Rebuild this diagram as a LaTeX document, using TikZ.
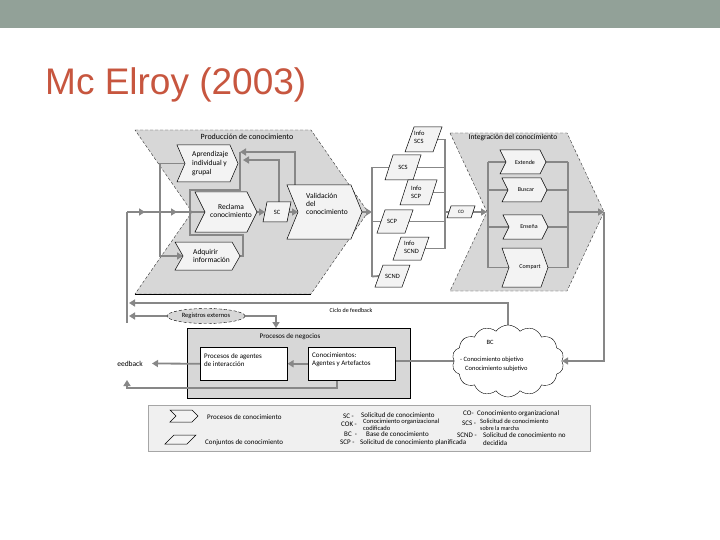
\documentclass[tikz,border=0pt]{standalone}
\usepackage{fontspec}
\setmainfont{Carlito}
\newfontfamily\titlefont{Liberation Sans}
\usetikzlibrary{arrows.meta,shapes.symbols,shapes.geometric,decorations.markings}
\definecolor{barcol}{RGB}{146,161,152}
\definecolor{titlecol}{RGB}{199,86,63}
\definecolor{chevfill}{RGB}{215,215,215}
\definecolor{boxfill}{RGB}{243,243,243}
\definecolor{linecol}{RGB}{135,135,135}
\definecolor{legfill}{RGB}{240,240,240}
\pgfdeclarelayer{back}
\pgfdeclarelayer{mid}
\pgfsetlayers{back,mid,main}
\newcommand\myfs[2]{\fontsize{#1}{#2}\selectfont}
% chevron: name, x left, y top, x body right, y bottom, depth, style
\newcommand\chevshape[7]{%
  \path[#7] (#2,#3) -- (#4,#3) -- ({#4+#6},{(#3+#5)/2}) -- (#4,#5) -- (#2,#5) -- ({#2+#6},{(#3+#5)/2}) -- cycle;
  \coordinate (#1-tip) at ({#4+#6},{(#3+#5)/2});
  \coordinate (#1-notch) at ({#2+#6},{(#3+#5)/2});
}
% parallelogram: name, x bottom-left, y top, width, height, slant, style
\newcommand\parashape[7]{%
  \path[#7] (#2,{#3+#5}) -- ({#2+#4},{#3+#5}) -- ({#2+#4+#6},#3) -- ({#2+#6},#3) -- cycle;
  \coordinate (#1-l) at ({#2+#6/2},{#3+#5/2});
  \coordinate (#1-r) at ({#2+#4+#6/2},{#3+#5/2});
  \coordinate (#1-c) at ({#2+#4/2+#6/2},{#3+#5/2});
  \coordinate (#1-t) at ({#2+#4/2+#6},#3);
}
\begin{document}
\begin{tikzpicture}[x=1pt,y=-1pt,
  flow/.style={draw=linecol, line width=1.8pt},
  flowarr/.style={flow, -{Triangle[length=6pt,width=7pt]}},
  midarrows/.style={postaction={decorate, decoration={markings,
     mark=at position 18pt with {\arrow[linecol]{Triangle[length=6pt,width=7pt]}},
     mark=at position 50pt with {\arrow[linecol]{Triangle[length=6pt,width=7pt]}}}}},
  bigchev/.style={fill=chevfill, draw=black!80, densely dashed, line width=0.4pt},
  smallchev/.style={fill=boxfill, draw=black, line width=0.5pt},
  parast/.style={fill=boxfill, draw=black, line width=0.5pt},
  txt/.style={inner sep=0pt, font=\myfs{7.5}{9}},
  stxt/.style={inner sep=0pt, font=\myfs{6.5}{8}},
  ltxt/.style={inner sep=0pt, font=\myfs{7}{8}, anchor=west},
  wbox/.style={draw=black, line width=0.5pt, fill=white, inner sep=0pt, anchor=north west}
]
\useasboundingbox (0,0) rectangle (720,540);

% ---------- background containers
\begin{pgfonlayer}{back}
\fill[white] (0,0) rectangle (720,540);
\fill[barcol] (0,0) rectangle (720,28);
\chevshape{prod}{135}{130}{311}{294}{57}{bigchev}
\draw[black, line width=0.6pt] (135,294) -- (311,294);
\chevshape{integ}{450}{133}{567}{291}{37}{bigchev}
\node[wbox, fill=chevfill, minimum width=223pt, minimum height=70pt] (bp) at (187,328) {};
\node[wbox, fill=legfill, draw=gray!70, line width=0.9pt, minimum width=442pt, minimum height=46pt] (legend) at (148,405) {};
\end{pgfonlayer}

\node[anchor=base west, inner sep=0pt, text=titlecol, font=\titlefont\myfs{37}{44}] (title) at (45,95) {Mc Elroy (2003)};

% ---------- knowledge production
\chevshape{aprend}{177}{145}{230}{182}{8}{smallchev}
\chevshape{reclama}{195}{192}{247}{232}{10}{smallchev}
\chevshape{valid}{287}{185}{351}{239}{11}{smallchev}
\chevshape{adq}{175}{242}{232}{270}{8}{smallchev}
\parashape{sc}{263}{202}{24}{20}{4}{parast}

% ---------- knowledge sets
\parashape{infoscs}{405}{127}{28}{25}{9}{parast}
\parashape{scs}{385}{155}{28}{25}{8}{parast}
\parashape{infoscp}{400}{180}{29}{25}{8}{parast}
\parashape{scp}{377}{210}{28}{23}{8}{parast}
\parashape{infoscnd}{393}{237}{28}{23}{8}{parast}
\parashape{scnd}{375}{265}{27}{22}{8}{parast}
\parashape{co}{447}{206}{24}{12}{4}{parast}

% ---------- knowledge integration
\chevshape{ext}{500}{150}{540}{174}{6}{smallchev}
\chevshape{busc}{502}{178}{541}{202}{6}{smallchev}
\chevshape{ens}{503}{215}{542}{239}{6}{smallchev}
\chevshape{comp}{502}{248}{541}{287}{7}{smallchev}

% ---------- business processes, cloud, records
\node[wbox, minimum width=87pt, minimum height=33pt] (pa) at (200,347) {};
\node[wbox, minimum width=87pt, minimum height=33pt] (conoc) at (308,347) {};
\node[cloud, draw=black, fill=white, cloud puffs=14, cloud puff arc=110, cloud ignores aspect,
      minimum width=112pt, minimum height=72pt, inner sep=0pt] (bc) at (508,361) {};
\node[ellipse, draw=black, densely dashed, fill=chevfill, minimum width=78pt, minimum height=15pt,
      inner sep=0pt, font=\myfs{6.5}{8}] (reg) at (206,316) {Registros externos};

% ---------- legend shapes
\chevshape{legchev}{170}{410}{192}{422}{6}{smallchev}
\parashape{legpara}{165}{435}{22}{9}{9}{parast}

% ---------- coordinates for connector ends
\coordinate (fbtop) at (127,212);
\coordinate (fbbot) at (127,323);
\coordinate (split) at (160,212);
\coordinate (loopend) at (240,152);
\coordinate (vfb) at (295,185);
\coordinate (scfb) at (243,160);
\coordinate (lbusm) at (372,212);
\coordinate (lbust) at (372,167.5);
\coordinate (lbusb) at (372,276.5);
\coordinate (rbust) at (445,139.5);
\coordinate (rbusb) at (445,248.5);
\coordinate (rbusm) at (445,212);
\coordinate (ilbt) at (488,162);
\coordinate (ilbb) at (488,267.5);
\coordinate (irbt) at (568,162);
\coordinate (irbb) at (568,267.5);
\coordinate (irbm) at (568,212);
\coordinate (fbl1) at (129,303);
\coordinate (bptop) at (276,328);
\coordinate (pafb) at (152,363.5);
\coordinate (cdown) at (337,380);
\coordinate (cleft) at (127,380);

% ---------- connectors
\begin{pgfonlayer}{mid}
\draw[flow] (fbtop) -- (fbbot);
\draw[flow, midarrows] (fbtop) -- (reclama-notch);
\draw[flow] (split) |- (aprend-notch);
\draw[flowarr] (split) |- (adq-notch);
\draw[flow] (adq-tip) -- ++(3,0) -- ++(0,-21) -- ++(-53,0) -- ++(0,-45) -- ++(50,0) -- (loopend);
\draw[flowarr] (vfb) |- (loopend);
\draw[flowarr] (sc-t) |- (scfb);
\draw[flowarr] (reclama-tip) -- (sc-l);
\draw[flowarr] (sc-r) -- (valid-notch);
\draw[flowarr] (valid-tip) -- (lbusm);
\draw[flow] (lbust) -- (lbusb);
\draw[flow] (lbust) -- (scs-l);
\draw[flow] (lbust |- scp-l) -- (scp-l);
\draw[flow] (lbusb) -- (scnd-l);
\draw[flow] (rbust) -- (rbusb);
\draw[flow] (infoscs-r) -- (infoscs-r -| rbust);
\draw[flow] (scs-r) -- (scs-r -| rbust);
\draw[flow] (infoscp-r) -- (infoscp-r -| rbust);
\draw[flow] (scp-r) -- (scp-r -| rbust);
\draw[flow] (infoscnd-r) -- (infoscnd-r -| rbust);
\draw[flow] (rbusm) -- (co-l);
\draw[flowarr] (co-r) -- (integ-notch);
\draw[flow] (ilbt) -- (ilbb);
\draw[flow] (irbt) -- (irbb);
\draw[flow] (ilbt) -- (ext-notch);
\draw[flow] (ilbt |- busc-notch) -- (busc-notch);
\draw[flow] (ilbt |- ens-notch) -- (ens-notch);
\draw[flow] (ilbb) -- (comp-notch);
\draw[flow] (ext-tip) -- (irbt);
\draw[flow] (busc-tip) -- (busc-tip -| irbt);
\draw[flow] (ens-tip) -- (ens-tip -| irbt);
\draw[flow] (comp-tip) -- (irbb);
\draw[flowarr] (irbm) -- (integ-tip);
\draw[flowarr] (integ-tip) |- (bc.east);
\draw[flowarr] (bc.north) |- (fbl1);
\draw[flowarr] (reg.west) -- (reg.west -| fbl1);
\draw[flowarr] (reg.east) -| (bptop);
\draw[flowarr] (conoc.west) -- (pa.east);
\draw[flowarr] (pa.west) -- (pafb);
\draw[flowarr] (cdown) -- ++(0,8) -| (cleft);
\draw[flow] (bc.west) -- (bc.west -| conoc.east);
\end{pgfonlayer}

% ---------- texts
\node[txt, font=\myfs{8}{9}] (prodlbl) at (247,137) {Producción de conocimiento};
\node[txt] (integlbl) at (513,138) {Integración del conocimiento};
\node[txt, anchor=west, align=left] (aprendt) at (192,163.5) {Aprendizaje\\individual y\\grupal};
\node[txt, align=center, font=\myfs{7.5}{8.5}] (reclamat) at (231,211) {Reclama\\conocimiento};
\node[txt, anchor=west, align=left, font=\myfs{7.5}{8}] (validt) at (306,204) {Validación\\del\\conocimiento};
\node[txt, anchor=west, align=left, font=\myfs{7.5}{8}] (adqt) at (193,256) {Adquirir\\información};
\node[stxt] (sct) at (sc-c) {SC};
\node[stxt, anchor=west, align=left] (infoscst) at (414,137) {Info\\SCS};
\node[stxt] (scst) at (scs-c) {SCS};
\node[stxt, anchor=west, align=left] (infoscpt) at (411,192) {Info\\SCP};
\node[stxt, anchor=west] (scpt) at (387,221.5) {SCP};
\node[stxt, anchor=west, align=left] (infoscndt) at (404,247.5) {Info\\SCND};
\node[stxt] (scndt) at (scnd-c) {SCND};
\node[inner sep=0pt, font=\myfs{5}{6}] (cot) at (co-c) {CO};
\node[inner sep=0pt, font=\myfs{6}{7}] (extt) at (525,162) {Extende};
\node[inner sep=0pt, font=\myfs{6}{7}] (busct) at (526,190) {Buscar};
\node[inner sep=0pt, font=\myfs{6}{7}] (enst) at (529,227) {Enseña};
\node[inner sep=0pt, font=\myfs{6}{7}] (compt) at (530,267.5) {Compart};
\node[inner sep=0pt, font=\myfs{6}{7}] (ciclo) at (351,310) {Ciclo de feedback};
\node[inner sep=0pt, font=\myfs{7}{8}] (bplbl) at (290,337) {Procesos de negocios};
\node[ltxt, align=left] (pat) at (204,360) {Procesos de agentes\\de interacción};
\node[ltxt, align=left] (conoct) at (312,360) {Conocimientos:\\Agentes y Artefactos};
\node[inner sep=0pt, anchor=east, font=\myfs{7.5}{8}] (fbtext) at (143,363.5) {eedback};
\node[stxt] (bct) at (490,342) {BC};
\node[stxt, anchor=west] (bcl1) at (460,360) {- Conocimiento objetivo};
\node[stxt, anchor=west] (bcl2) at (465,369) {Conocimiento subjetivo};

% legend texts
\node[ltxt] (lg1) at (207,417) {Procesos de conocimiento};
\node[ltxt] (lg2) at (205,443) {Conjuntos de conocimiento};
\node[ltxt] (ab1) at (343,416) {SC -};
\node[ltxt] (ab2) at (341,424) {COK -};
\node[ltxt] (ab3) at (344,434) {BC \ -};
\node[ltxt] (ab4) at (340,442.5) {SCP -};
\node[ltxt] (d1) at (361,415.5) {Solicitud de conocimiento};
\node[ltxt, font=\myfs{6.5}{7}] (d2) at (363,422) {Conocimiento organizacional};
\node[ltxt, font=\myfs{6.5}{7}] (d2b) at (363,428) {codificado};
\node[ltxt] (d3) at (366,434.5) {Base de conocimiento};
\node[ltxt] (d4) at (360,442.5) {Solicitud de conocimiento planificada};
\node[ltxt] (ab5) at (463,413.5) {CO-};
\node[ltxt] (d5) at (477,413.5) {Conocimiento organizacional};
\node[ltxt] (ab6) at (462,423) {SCS -};
\node[ltxt, font=\myfs{6.5}{7}] (d6) at (480,421.5) {Solicitud de conocimiento};
\node[ltxt, font=\myfs{6}{7}] (d6b) at (480,428) {sobre la marcha};
\node[ltxt] (ab7) at (457,435) {SCND -};
\node[ltxt] (d7) at (483,435) {Solicitud de conocimiento no};
\node[ltxt] (d7b) at (483,443) {decidida};
\end{tikzpicture}
\end{document}
